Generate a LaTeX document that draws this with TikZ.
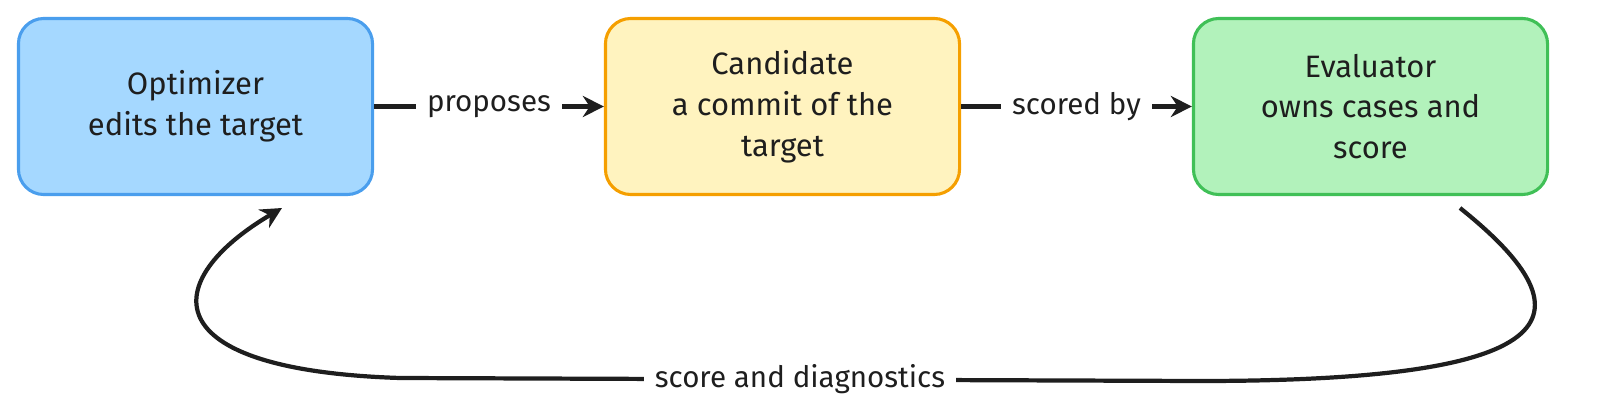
\documentclass[tikz,border=0pt]{standalone}
\usepackage{fontspec}
\setmainfont{Fira Sans}
\usetikzlibrary{arrows.meta,positioning}
\definecolor{optfill}{HTML}{A5D8FF}
\definecolor{optdraw}{HTML}{4A9EED}
\definecolor{candfill}{HTML}{FFF3BF}
\definecolor{canddraw}{HTML}{F59F00}
\definecolor{evalfill}{HTML}{B2F2BB}
\definecolor{evaldraw}{HTML}{40C057}
\definecolor{ink}{HTML}{1E1E1E}
\tikzset{
    stage/.style={
    rectangle,rounded corners=18pt,line width=2.2pt,minimum width=8.85cm,
    minimum height=4.4cm,align=center,font=\fontsize{22}{29}\selectfont,text=ink
    },
    flow/.style={
    -{Stealth[length=15pt,width=15pt]},line width=3pt,draw=ink
    },
    lbl/.style={
    fill=white,font=\fontsize{21}{26}\selectfont,text=ink,inner sep=8pt
    },
}
\begin{document}
\begin{tikzpicture}[x=0.025cm,y=-0.025cm]
   \useasboundingbox (0,0) rectangle (1600,420);
   \node[stage,fill=optfill,draw=optdraw] (opt) at (195.5,106.5) {Optimizer\\edits the target};
   \node[stage,fill=candfill,draw=canddraw] (cand) at (782.5,106.5) {Candidate\\a commit of the\\target};
   \node[stage,fill=evalfill,draw=evaldraw] (eval) at (1370.5,106.5) {Evaluator\\owns cases and\\score};
   \coordinate (fbstart) at (1460,208);
   \coordinate (fbend) at (282,208);

  \draw[flow] (opt) -- node[lbl] {proposes} (cand);
  \draw[flow] (cand) -- node[lbl] {scored by} (eval);
  \draw[flow] (fbstart) .. controls (1600,320) and (1560,381) .. (1200,381)
    -- node[lbl] {score and diagnostics} (400,378)
    .. controls (150,370) and (160,280) .. (fbend);
\end{tikzpicture}
\end{document}
